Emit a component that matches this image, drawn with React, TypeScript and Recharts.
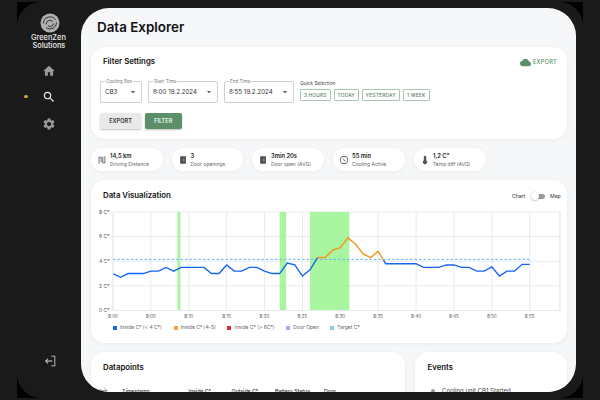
import React from 'react';
import { LineChart, Line, XAxis, YAxis, CartesianGrid, ReferenceArea, ReferenceLine } from 'recharts';

const minutes = [0,1,2,3,4,5,6,7,8,9,10,11,12,13,14,15,16,17,18,19,20,21,22,23,24,25,26,27,28,29,30,31,32,33,34,35,35.7,36,37,38,39,40,41,42,43,44,45,46,47,48,49,50,51,52,53,54,55];
const insideLow = [3.0,2.7,3.0,3.0,3.0,3.2,3.2,3.5,3.2,3.5,3.5,3.5,3.5,3.0,3.0,3.7,3.2,3.2,3.5,3.5,3.2,3.0,3.0,3.85,3.7,2.8,3.3,4.3,null,null,null,null,null,null,null,null,4.1,3.8,3.8,3.8,3.8,3.8,3.5,3.5,3.5,3.7,3.7,3.5,3.5,3.2,3.2,3.55,2.8,3.2,3.2,3.75,3.75];
const insideMid = [null,null,null,null,null,null,null,null,null,null,null,null,null,null,null,null,null,null,null,null,null,null,null,null,null,null,null,4.3,4.3,4.9,5.1,5.9,5.4,4.6,4.3,4.8,4.1];
const targetTemp = 4.15;
const xTicks = [0,5,10,15,20,25,30,35,40,45,50,55];
const yTicks = [0,2,4,6,8];
const doorOpenFrom = [8.5, 22, 26];
const doorOpenTo = [8.9, 22.85, 31.2];

const legendNames = ['Inside C° (< 4 C°)', 'Inside C° (4-5)', 'Inside C° (> 6C°)', 'Door Open', 'Target C°'];
const legendColors = ['#1565f5', '#f9a431', '#ee2a24', '#b9a2f5', '#8cc4f8'];
const legendX = [113, 173.7, 227.3, 286.3, 330.3];

const chipValues = ['14,5 km', '3', '3min 20s', '55 min', '1,2 C°'];
const chipLabels = ['Driving Distance', 'Door openings', 'Door open (AVG)', 'Cooling Active', 'Temp diff (AVG)'];
const chipX = [91, 171.5, 252, 333, 414];

const quickLabels = ['3 HOURS', 'TODAY', 'YESTERDAY', '1 WEEK'];
const quickX = [300, 334, 362, 403];
const quickW = [30.5, 24.5, 37.5, 26.5];

const selectLabels = ['Cooling Box', 'Start Time', 'End Time'];
const selectValues = ['CB3', '8:00 19.2.2024', '8:55 19.2.2024'];
const selectX = [100, 148, 224];
const selectW = [41.5, 69.5, 69.5];

const tableHeads = ['Unit', 'Timestamp', 'Inside C°', 'Outside C°', 'Battery Status', 'Door'];
const tableX = [97, 122, 188.5, 231.5, 275, 324];

const rows = minutes.map((m, i) => ({
  m,
  low: insideLow[i] ?? null,
  mid: insideMid[i] ?? null,
  target: targetTemp,
}));

const font = 'Inter, "Noto Sans", sans-serif';

const T = ({ x, y, s, w = 400, c = '#222', children, ls }: any) => (
  <div style={{ position: 'absolute', left: x, top: y, fontSize: s, fontWeight: w, color: c, lineHeight: 1, whiteSpace: 'nowrap', letterSpacing: ls }}>
    {children}
  </div>
);

const Box = ({ x, y, w, h, r = 0, bg, style }: any) => (
  <div style={{ position: 'absolute', left: x, top: y, width: w, height: h, borderRadius: r, background: bg, ...style }} />
);

const Icon = ({ x, y, size, d, c }: any) => (
  <svg style={{ position: 'absolute', left: x - size / 2, top: y - size / 2 }} width={size} height={size} viewBox="0 0 24 24">
    <path d={d} fill={c} />
  </svg>
);

// recharts wraps narrow tick text, so the ticks are drawn by hand
const XTick = ({ x, y, payload }: any) => (
  <text x={x} y={y - 0.5} textAnchor="middle" fontSize={4.6} fill="#555">
    {`8:${String(payload.value).padStart(2, '0')}`}
  </text>
);
const YTick = ({ x, y, payload }: any) => (
  <text x={x + 4.5} y={y + 1.7} textAnchor="end" fontSize={5} fill="#555">
    {`${payload.value} C°`}
  </text>
);

const homeIcon = 'M10 20v-6h4v6h5v-8h3L12 3 2 12h3v8z';
const searchIcon = 'M15.5 14h-.79l-.28-.27C15.41 12.59 16 11.11 16 9.5 16 5.91 13.09 3 9.5 3S3 5.91 3 9.5 5.91 16 9.5 16c1.61 0 3.09-.59 4.23-1.57l.27.28v.79l5 4.99L20.49 19l-4.99-5zm-6 0C7.01 14 5 11.99 5 9.5S7.01 5 9.5 5 14 7.01 14 9.5 11.99 14 9.5 14z';
const gearIcon = 'M19.14 12.94c.04-.3.06-.61.06-.94 0-.32-.02-.64-.07-.94l2.03-1.58c.18-.14.23-.41.12-.61l-1.92-3.32c-.12-.22-.37-.29-.59-.22l-2.39.96c-.5-.38-1.03-.7-1.62-.94l-.36-2.54c-.04-.24-.24-.41-.48-.41h-3.84c-.24 0-.43.17-.47.41l-.36 2.54c-.59.24-1.13.57-1.62.94l-2.39-.96c-.22-.08-.47 0-.59.22L2.74 8.87c-.12.21-.08.47.12.61l2.03 1.58c-.05.3-.09.63-.09.94s.02.64.07.94l-2.03 1.58c-.18.14-.23.41-.12.61l1.92 3.32c.12.22.37.29.59.22l2.39-.96c.5.38 1.03.7 1.62.94l.36 2.54c.05.24.24.41.48.41h3.84c.24 0 .44-.17.47-.41l.36-2.54c.59-.24 1.13-.56 1.62-.94l2.39.96c.22.08.47 0 .59-.22l1.92-3.32c.12-.22.07-.47-.12-.61l-2.01-1.58zM12 15.6c-1.98 0-3.6-1.62-3.6-3.6s1.62-3.6 3.6-3.6 3.6 1.62 3.6 3.6-1.62 3.6-3.6 3.6z';
const cloudIcon = 'M19.35 10.04C18.67 6.59 15.64 4 12 4 9.11 4 6.6 5.64 5.35 8.04 2.34 8.36 0 10.91 0 14c0 3.31 2.69 6 6 6h13c2.76 0 5-2.24 5-5 0-2.64-2.05-4.78-4.65-4.96z';
const logoutIcon = 'M14 3h7v18h-7v-1.4h5.6V4.4H14zM8 7.5l1 1L6.2 11.3H16v1.4H6.2L9 15.5l-1 1L3.5 12z';
const doorIcon = 'M5 3h14v18H5zM15 11h-2v2h2z';
const clockIcon = 'M12 2a10 10 0 1 0 0 20 10 10 0 0 0 0-20zm0 18a8 8 0 1 1 0-16 8 8 0 0 1 0 16zm.5-13H11v6l5.2 3.1.8-1.2-4.5-2.7z';
const thermoIcon = 'M15 13V5a3 3 0 0 0-6 0v8a5 5 0 1 0 6 0z';
const routeIcon = 'M4 4h7v13H9V6H6v15H4zM13 4h2v14h3V3h2v17h-7z';
const chipIcons = [routeIcon, doorIcon, doorIcon, clockIcon, thermoIcon];

const cardShadow = '0 1px 5px rgba(0,0,0,0.05)';

export default function App() {
  return (
    <div style={{ position: 'fixed', left: 0, top: 0, width: 600, height: 400, background: '#1a1a1a', overflow: 'hidden', fontFamily: font }}>
      <Box x={17} y={2} w={566} h={396} bg="#000" />
      <Box x={17} y={2} w={566} h={396} r={24} bg="#1a1a1a" />

      {/* sidebar */}
      <svg style={{ position: 'absolute', left: 39.5, top: 13 }} width={20} height={20} viewBox="0 0 21 21">
        <circle cx={10.5} cy={10.5} r={10} fill="#b0b0b0" />
        <path d="M3.5 11a7 7 0 0 1 13-3.5" fill="none" stroke="#1a1a1a" strokeWidth={0.9} />
        <path d="M6.5 12a4 4 0 0 1 7-3" fill="none" stroke="#1a1a1a" strokeWidth={0.9} />
        <path d="M17.5 10a7 7 0 0 1-11 5.5" fill="none" stroke="#1a1a1a" strokeWidth={0.9} />
        <path d="M14.5 11a4 4 0 0 1-6 2.5" fill="none" stroke="#1a1a1a" strokeWidth={0.9} />
      </svg>
      <T x={31} y={34.3} s={7.4} w={500} c="#eee">GreenZen</T>
      <T x={32.5} y={42.3} s={7.4} w={500} c="#eee">Solutions</T>
      <Icon x={49} y={71} size={14} d={homeIcon} c="#9a9a9a" />
      <Icon x={49} y={97} size={14} d={searchIcon} c="#f2f2f2" />
      <Icon x={49} y={124} size={14} d={gearIcon} c="#9a9a9a" />
      <Icon x={49.5} y={361} size={14} d={logoutIcon} c="#d8d8d8" />
      <Box x={24} y={94.5} w={3.5} h={3.5} r={2} bg="#cf9f45" />

      {/* main panel */}
      <div style={{ position: 'absolute', left: 81, top: 8, width: 495, height: 384, borderRadius: 28, background: '#f6f7f9', overflow: 'hidden' }}>
        <div style={{ position: 'absolute', left: -81, top: -8, width: 600, height: 400 }}>
          <T x={97} y={21} s={13.4} w={600} c="#111">Data Explorer</T>

          {/* filter card */}
          <Box x={91} y={47} w={476} h={92} r={14} bg="#fff" style={{ boxShadow: cardShadow }} />
          <T x={103} y={58.4} s={7.8} w={600} c="#111">Filter Settings</T>
          <Icon x={525} y={62} size={11} d={cloudIcon} c="#5a8f6a" />
          <T x={533} y={59.5} s={5.6} w={500} c="#5a8f6a" ls={0.25}>EXPORT</T>
          {selectLabels.map((label, i) => (
            <React.Fragment key={label}>
              <Box x={selectX[i]} y={81} w={selectW[i]} h={22} r={2} bg="#fff" style={{ border: '0.7px solid #cfcfcf', boxSizing: 'border-box' }} />
              <div style={{ position: 'absolute', left: selectX[i] + 5, top: 78.5, background: '#fff', padding: '0 1px', fontSize: 4.6, color: '#777', lineHeight: '5px', whiteSpace: 'nowrap' }}>{label}</div>
              <T x={selectX[i] + 5} y={89} s={6.2} c="#333">{selectValues[i]}</T>
              <svg style={{ position: 'absolute', left: selectX[i] + selectW[i] - 11, top: 91 }} width={5} height={3} viewBox="0 0 5 3"><path d="M0 0h4L2 2.2z" fill="#555" /></svg>
            </React.Fragment>
          ))}
          <T x={300} y={81} s={4.8} c="#444">Quick Selection</T>
          {quickLabels.map((label, i) => (
            <div key={label} style={{ position: 'absolute', left: quickX[i], top: 89, width: quickW[i], height: 11.5, boxSizing: 'border-box', border: '0.8px solid #a9c7b2', borderRadius: 1, fontSize: 4.8, fontWeight: 500, color: '#5a8569', textAlign: 'center', lineHeight: '10px', letterSpacing: 0.2 }}>{label}</div>
          ))}
          <div style={{ position: 'absolute', left: 100, top: 113, width: 41, height: 16, borderRadius: 2, background: '#e9e9e9', boxShadow: '0 1px 2px rgba(0,0,0,.25)', fontSize: 5.6, fontWeight: 600, color: '#333', textAlign: 'center', lineHeight: '16px' }}>EXPORT</div>
          <div style={{ position: 'absolute', left: 145, top: 113, width: 36.5, height: 16, borderRadius: 2, background: '#5a8f6a', boxShadow: '0 1px 2px rgba(0,0,0,.25)', fontSize: 5.6, fontWeight: 600, color: '#eef5ef', textAlign: 'center', lineHeight: '16px' }}>FILTER</div>

          {/* stat chips */}
          {chipValues.map((value, i) => (
            <React.Fragment key={chipLabels[i]}>
              <Box x={chipX[i]} y={148} w={71.5} h={23} r={11.5} bg="#fff" style={{ boxShadow: cardShadow }} />
              <Icon x={chipX[i] + 11} y={159.5} size={10} d={chipIcons[i]} c="#555" />
              <T x={chipX[i] + 19} y={153} s={5.8} w={600} c="#222">{value}</T>
              <T x={chipX[i] + 19} y={161.5} s={5} c="#666">{chipLabels[i]}</T>
            </React.Fragment>
          ))}

          {/* chart card */}
          <Box x={91} y={180} w={476} h={163} r={14} bg="#fff" style={{ boxShadow: cardShadow }} />
          <T x={103} y={191.8} s={7.8} w={600} c="#111">Data Visualization</T>
          <T x={512} y={193.5} s={5.2} c="#333">Chart</T>
          <T x={550} y={193.5} s={5.2} c="#333">Map</T>
          <Box x={533} y={193.5} w={12} h={5} r={2.5} bg="#9a9a9a" />
          <Box x={531} y={192} w={8} h={8} r={4} bg="#fff" style={{ boxShadow: '0 0.5px 2px rgba(0,0,0,.35)' }} />

          <div style={{ position: 'absolute', left: 91, top: 180 }}>
            <LineChart width={476} height={163} data={rows} margin={{ top: 32, right: 7, bottom: 20.5, left: 0 }}>
              <CartesianGrid stroke="#e6ebef" strokeWidth={1} />
              {doorOpenFrom.map((from, i) => (
                <ReferenceArea key={from} x1={from} x2={doorOpenTo[i]} y1={0} y2={8} fill="#a0f496" fillOpacity={0.9} stroke="none" ifOverflow="visible" />
              ))}
              <ReferenceLine x={59} stroke="#e6ebef" strokeWidth={1} />
              <XAxis dataKey="m" type="number" domain={[0, 59]} ticks={xTicks} tick={XTick} tickLine={false} axisLine={{ stroke: '#e6ebef' }} height={12} interval={0} />
              <YAxis domain={[0, 8]} ticks={yTicks} tick={YTick} tickLine={false} axisLine={{ stroke: '#e6ebef' }} width={22} interval={0} />
              <Line dataKey="target" stroke="#64b5f6" strokeWidth={1} strokeDasharray="2.5 2" dot={false} isAnimationActive={false} />
              <Line dataKey="low" stroke="#1565f5" strokeWidth={1.4} dot={false} connectNulls={false} isAnimationActive={false} />
              <Line dataKey="mid" stroke="#f5941d" strokeWidth={1.4} dot={false} connectNulls={false} isAnimationActive={false} />
            </LineChart>
          </div>

          {/* legend */}
          {legendNames.map((name, i) => (
            <React.Fragment key={name}>
              <Box x={legendX[i]} y={326} w={4} h={4} bg={legendColors[i]} />
              <T x={legendX[i] + 7} y={325.3} s={5} c="#666">{name}</T>
            </React.Fragment>
          ))}

          {/* bottom cards */}
          <Box x={91} y={352} w={314} h={60} r={14} bg="#fff" style={{ boxShadow: cardShadow }} />
          <Box x={415} y={352} w={152} h={60} r={14} bg="#fff" style={{ boxShadow: cardShadow }} />
          <T x={103} y={364.4} s={7.8} w={600} c="#111">Datapoints</T>
          <T x={427.5} y={364.4} s={7.8} w={600} c="#111">Events</T>
          {tableHeads.map((head, i) => (
            <T key={head} x={tableX[i]} y={389} s={5.2} w={500} c="#333">{head}</T>
          ))}
          <Box x={431} y={388.5} w={4} h={4} r={2} bg="#999" />
          <T x={442} y={388} s={6} c="#444">Cooling unit CB1 Started</T>
        </div>
      </div>
    </div>
  );
}
